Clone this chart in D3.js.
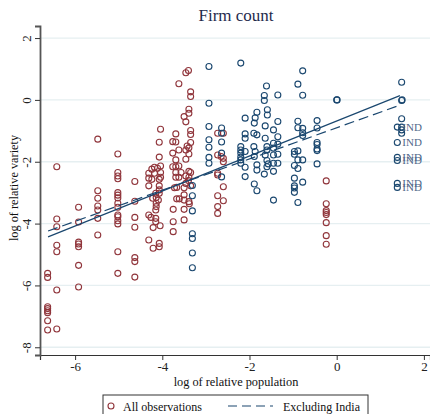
<!DOCTYPE html>
<html><head><meta charset="utf-8">
<script src="https://cdn.jsdelivr.net/npm/d3@7"></script>
<style>body{margin:0;background:#fff}svg{display:block}</style>
</head><body>
<script>
const titleText = "Firm count";
const xLabel = "log of relative population";
const yLabel = "log of relative variety";
const xTicks = [-6, -4, -2, 0, 2];
const yTicks = [-8, -6, -4, -2, 0, 2];
const legendLabels = ["All observations", "Excluding India"];

// red circles
const redPoints = [
[-6.63,-5.61],[-6.63,-5.74],[-6.63,-6.69],[-6.63,-6.75],[-6.63,-6.82],[-6.63,-6.88],[-6.63,-7.14],[-6.63,-7.44],
[-6.42,-2.16],[-6.42,-3.85],[-6.42,-4.10],[-6.42,-4.70],[-6.42,-4.91],[-6.42,-6.15],[-6.42,-7.41],
[-5.92,-3.47],[-5.92,-3.95],[-5.92,-4.60],[-5.92,-4.66],[-5.92,-4.75],[-5.92,-5.35],[-5.92,-6.05],
[-5.48,-1.27],[-5.48,-2.94],[-5.48,-3.18],[-5.48,-3.43],[-5.48,-3.56],[-5.48,-3.83],[-5.48,-4.37],
[-5.02,-1.75],[-5.02,-2.35],[-5.02,-2.46],[-5.02,-2.55],[-5.02,-3.00],[-5.02,-3.08],[-5.02,-3.17],[-5.02,-3.34],
[-5.02,-3.47],[-5.02,-3.72],[-5.02,-3.78],[-5.02,-3.91],[-5.02,-4.01],[-5.02,-4.91],[-5.02,-5.61],
[-4.63,-2.64],[-4.63,-3.28],[-4.63,-3.80],[-4.63,-4.12],[-4.63,-5.10],[-4.63,-5.23],[-4.63,-5.73],
[-3.40,0.95],[-3.46,0.88],[-3.62,0.52],[-3.35,0.26],[-3.35,0.11],[-3.39,-0.30],[-3.39,-0.43],[-3.50,-0.54],
[-3.46,-0.71],[-4.04,-0.95],[-3.35,-0.99],[-3.35,-1.12],[-3.69,-1.10],[-4.07,-1.37],[-3.76,-1.35],[-3.69,-1.36],
[-3.35,-1.38],[-3.43,-1.49],[-3.39,-1.55],[-3.46,-1.62],[-3.62,-1.62],[-3.76,-1.72],[-3.39,-1.75],[-4.07,-1.85],
[-3.69,-1.94],[-3.46,-1.92],[-3.69,-2.16],[-3.76,-2.16],[-3.62,-2.14],[-4.04,-2.14],[-4.18,-2.18],[-4.11,-2.21],
[-4.24,-2.24],[-4.31,-2.37],[-4.18,-2.37],[-4.04,-2.35],[-3.69,-2.35],[-3.57,-2.35],[-3.39,-2.31],[-3.35,-2.35],
[-4.31,-2.53],[-4.24,-2.57],[-4.04,-2.50],[-4.07,-2.57],[-3.69,-2.50],[-3.62,-2.50],[-3.46,-2.46],[-3.39,-2.50],
[-3.40,-2.61],[-4.31,-2.78],[-4.07,-2.78],[-3.46,-2.70],[-3.35,-2.78],[-3.67,-2.83],[-4.07,-2.91],[-3.72,-2.84],
[-3.50,-2.84],[-4.15,-3.02],[-4.07,-3.02],[-3.50,-3.07],[-4.14,-3.16],[-4.09,-3.24],[-4.14,-3.34],[-4.14,-3.45],
[-4.15,-3.56],[-4.22,-3.18],[-3.67,-3.20],[-3.61,-3.20],[-3.50,-3.24],[-3.39,-3.29],[-3.38,-3.36],[-3.75,-3.54],
[-3.50,-3.54],[-4.31,-3.72],[-4.26,-3.80],[-4.15,-3.83],[-4.15,-3.94],[-3.75,-3.94],[-3.50,-3.88],[-4.21,-4.13],
[-4.05,-4.07],[-3.75,-4.26],[-4.31,-4.53],[-4.21,-4.80],[-4.07,-4.64],[-4.07,-4.75],
[-2.73,-1.08],[-2.60,-1.08],[-2.73,-1.78],[-2.65,-1.83],[-2.60,-1.89],[-2.60,-2.00],[-2.73,-2.37],[-2.73,-2.43],
[-2.60,-2.81],[-2.73,-3.10],[-2.60,-3.26],[-2.73,-3.45],[-2.73,-3.67],
[-0.24,-2.62],[-0.24,-3.36],[-0.24,-3.58],[-0.24,-3.64],[-0.24,-3.71],[-0.24,-3.97],[-0.24,-4.39],[-0.24,-4.67]
];

// blue circles
const bluePoints = [
[-3.31,-2.77],[-3.31,-3.10],[-3.31,-3.59],[-3.31,-4.33],[-3.31,-4.48],[-3.31,-4.95],[-3.31,-5.43],
[-2.93,1.08],[-2.93,-0.11],[-2.93,-0.86],[-2.93,-1.29],[-2.93,-1.53],[-2.93,-1.86],[-2.93,-2.05],
[-2.64,-0.91],[-2.64,-1.08],[-2.64,-1.36],[-2.64,-1.72],[-2.64,-2.49],
[-2.20,1.19],[-2.20,-1.51],[-2.20,-1.62],[-2.20,-1.72],[-2.20,-1.85],[-2.20,-1.94],[-2.20,-2.05],
[-2.10,-0.59],[-2.10,-1.10],[-2.10,-1.24],[-2.10,-1.67],[-2.10,-2.18],[-2.10,-2.48],
[-1.83,-0.40],[-1.87,-0.58],[-1.89,-0.75],[-1.90,-1.08],[-1.83,-1.13],[-1.90,-1.51],[-1.87,-1.67],[-1.89,-1.83],
[-1.83,-2.10],[-1.83,-2.27],[-1.89,-2.72],[-1.83,-2.94],
[-1.61,0.45],[-1.66,0.14],[-1.66,-0.02],[-1.59,-0.32],[-1.59,-0.49],[-1.64,-0.84],[-1.64,-1.24],[-1.60,-1.51],
[-1.60,-1.62],[-1.64,-1.78],[-1.60,-1.96],[-1.57,-2.07],[-1.60,-2.16],[-1.66,-2.40],
[-1.45,-0.97],[-1.45,-1.40],[-1.45,-1.56],[-1.45,-1.78],[-1.45,-2.05],[-1.45,-2.31],[-1.45,-3.24],
[-1.35,0.16],[-1.35,-0.70],[-1.35,-1.19],[-1.35,-1.43],[-1.35,-1.76],[-1.35,-2.05],
[-0.97,-1.67],[-0.97,-1.76],[-0.97,-2.12],[-0.97,-2.53],[-0.97,-2.78],[-0.97,-2.85],[-0.97,-2.99],
[-0.89,0.51],[-0.89,-0.69],[-0.89,-0.90],[-0.89,-1.65],[-0.89,-1.94],[-0.89,-2.22],[-0.89,-3.32],
[-0.78,0.94],[-0.78,0.15],[-0.78,-0.92],[-0.78,-1.06],[-0.78,-1.15],[-0.78,-1.94],[-0.78,-2.66],
[-0.45,-0.67],[-0.45,-0.91],[-0.45,-1.38],[-0.45,-1.44],[-0.45,-1.59],[-0.45,-1.64],[-0.45,-2.07],
[0,0],[0.01,0],
[1.49,0.57],[1.49,-0.02],[1.50,0.0],[1.49,-0.61],[1.49,-0.88],[1.49,-0.97],[1.49,-1.08]
];

// India observations (labelled)
const indiaPoints = [
[1.39,-0.88],[1.39,-1.38],[1.39,-1.86],[1.39,-1.96],[1.39,-2.70],[1.39,-2.83]
];
const indiaLabel = "IND";

// fitted lines
const fitAll = [[-6.62,-4.43],[1.45,0.14]];
const fitExIndia = [[-6.62,-4.24],[1.45,-0.17]];

const W = 430, H = 414;
const RED = "#90353b", BLUE = "#1a476f";
const svg = d3.select("body").append("svg").attr("width", W).attr("height", H)
  .style("font-family", "'Liberation Serif','Times New Roman',serif");

const x = d3.scaleLinear().domain([-6.805, 2.14]).range([40, 430]);
const y = d3.scaleLinear().domain([-8.25, 2.39]).range([355, 26]);

// gridlines
svg.append("g").selectAll("line").data(yTicks).join("line")
  .attr("x1", 40).attr("x2", 430)
  .attr("y1", d => y(d)).attr("y2", d => y(d))
  .attr("stroke", "#e6eff1").attr("stroke-width", 1.3);

// axes
const xAxis = d3.axisBottom(x).tickValues(xTicks).tickSize(5).tickPadding(2).tickFormat(d3.format("d"));
const gx = svg.append("g").attr("transform", "translate(0,355)").call(xAxis);
gx.select(".domain").attr("stroke", "#333").attr("stroke-width", 1.2);
gx.selectAll(".tick line").attr("stroke", "#333");
gx.selectAll(".tick text").attr("font-size", 13).attr("fill", "#222")
  .attr("font-family", "'Liberation Serif',serif").text(d => d < 0 ? "-" + Math.abs(d) : d);

const yAxis = d3.axisLeft(y).tickValues(yTicks).tickSize(5).tickFormat(d3.format("d"));
const gy = svg.append("g").attr("transform", "translate(40,0)").call(yAxis);
gy.select(".domain").attr("stroke", "#555").attr("stroke-width", 1.8);
gy.selectAll(".tick line").attr("stroke", "#333");
gy.selectAll(".tick text").remove();
gy.selectAll(".tick").append("text")
  .attr("transform", "translate(-14,0) rotate(-90)")
  .attr("text-anchor", "middle").attr("dy", "0.35em")
  .attr("font-size", 13).attr("fill", "#222")
  .attr("font-family", "'Liberation Serif',serif")
  .text(d => d < 0 ? "-" + Math.abs(d) : d);

// points
function circles(data, color) {
  svg.append("g").selectAll("circle").data(data).join("circle")
    .attr("cx", d => x(d[0])).attr("cy", d => y(d[1])).attr("r", 3)
    .attr("fill", "none").attr("stroke", color).attr("stroke-width", 1.1);
}
circles(redPoints, RED);
circles(bluePoints, BLUE);
circles(indiaPoints, BLUE);

svg.append("g").selectAll("text").data(indiaPoints).join("text")
  .attr("x", d => x(d[0]) + 5).attr("y", d => y(d[1])).attr("dy", "0.35em")
  .attr("font-size", 11).attr("fill", "#52698a").text(indiaLabel);

// fit lines
const line = d3.line().x(d => x(d[0])).y(d => y(d[1]));
svg.append("path").datum(fitAll).attr("d", line)
  .attr("fill", "none").attr("stroke", BLUE).attr("stroke-width", 1.2);
svg.append("path").datum(fitExIndia).attr("d", line)
  .attr("fill", "none").attr("stroke", BLUE).attr("stroke-width", 1.2)
  .attr("stroke-dasharray", "10,5");

// title and labels
svg.append("text").attr("x", 236).attr("y", 21).attr("text-anchor", "middle")
  .attr("font-size", 17).attr("fill", "#1f2b4d").text(titleText);
svg.append("text").attr("x", 236).attr("y", 386).attr("text-anchor", "middle")
  .attr("font-size", 12.3).attr("fill", "#111").text(xLabel);
svg.append("text").attr("transform", "translate(18,188) rotate(-90)").attr("text-anchor", "middle")
  .attr("font-size", 12.3).attr("fill", "#111").text(yLabel);

// legend
const lg = svg.append("g");
lg.append("rect").attr("x", 103).attr("y", 395).attr("width", 265).attr("height", 40)
  .attr("fill", "#fff").attr("stroke", "#333").attr("stroke-width", 1);
lg.append("circle").attr("cx", 111).attr("cy", 406).attr("r", 3)
  .attr("fill", "none").attr("stroke", RED).attr("stroke-width", 1.1);
lg.append("text").attr("x", 123).attr("y", 410.5).attr("font-size", 12).attr("fill", "#111").text(legendLabels[0]);
lg.append("line").attr("x1", 228).attr("x2", 273).attr("y1", 406).attr("y2", 406)
  .attr("stroke", BLUE).attr("stroke-width", 1.2).attr("stroke-dasharray", "9,5");
lg.append("text").attr("x", 283).attr("y", 410.5).attr("font-size", 12).attr("fill", "#111").text(legendLabels[1]);
</script>
</body></html>
